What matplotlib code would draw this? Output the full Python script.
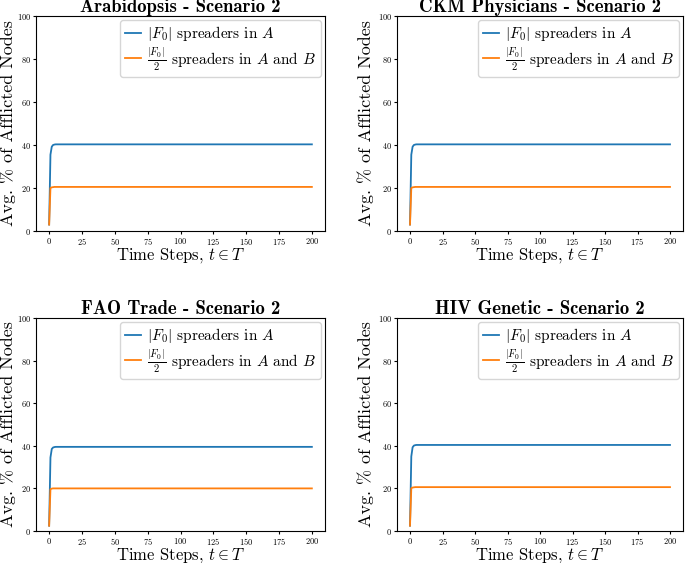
import matplotlib
matplotlib.use("Agg")
import matplotlib.pyplot as plt
import numpy as np

plt.rcParams['font.family'] = 'serif'
plt.rcParams['font.serif'] = ['cmr10']
plt.rcParams['mathtext.fontset'] = 'cm'
plt.rcParams['axes.unicode_minus'] = False
plt.rcParams['axes.formatter.use_mathtext'] = True

steps = np.arange(0, 201)

titles = ["Arabidopsis - Scenario 2", "CKM Physicians - Scenario 2",
          "FAO Trade - Scenario 2", "HIV Genetic - Scenario 2"]

# % afflicted, |F0| spreaders in A
arab_a = [3.0, 35.5, 39.2, 40.0, 40.2] + [40.3] * 196
ckm_a = [3.0, 35.5, 39.2, 40.0, 40.2] + [40.3] * 196
fao_a = [2.5, 34.5, 38.5, 39.2, 39.4] + [39.5] * 196
hiv_a = [2.5, 35.0, 39.3, 40.1, 40.3] + [40.4] * 196

# % afflicted, |F0|/2 spreaders in A and B
arab_ab = [3.0, 20.0, 20.3, 20.4, 20.5] + [20.5] * 196
ckm_ab = [3.0, 20.0, 20.3, 20.4, 20.5] + [20.5] * 196
fao_ab = [2.5, 19.6, 19.9, 20.0, 20.0] + [20.0] * 196
hiv_ab = [2.5, 20.1, 20.4, 20.5, 20.6] + [20.6] * 196

series = [(arab_a, arab_ab), (ckm_a, ckm_ab), (fao_a, fao_ab), (hiv_a, hiv_ab)]

fig = plt.figure(figsize=(6.85, 5.63), dpi=100)
W, H = 685, 563
# axes boxes in pixels (left, top, right, bottom) and ylabel right edge
boxes = [(36, 16, 325, 231, 16), (397, 16, 683, 231, 374),
         (36, 318, 325, 531, 16), (397, 318, 683, 531, 374)]

for (x0, y0, x1, y1, ylx), title, (a, ab) in zip(boxes, titles, series):
    w, h = x1 - x0, y1 - y0
    ax = fig.add_axes([x0 / W, 1 - y1 / H, w / W, h / H])
    ax.plot(steps, a, color='tab:blue', lw=1.3, label=r'$|F_0|$ spreaders in $A$')
    ax.plot(steps, ab, color='tab:orange', lw=1.3,
            label=r'$\frac{|F_0|}{2}$ spreaders in $A$ and $B$')
    ax.set_ylim(0, 100)
    ax.set_xticks([0, 25, 50, 75, 100, 125, 150, 175, 200])
    ax.set_yticks([0, 20, 40, 60, 80, 100])
    ax.tick_params(labelsize=6, length=2.5, pad=1)
    ax.set_xlabel(r'Time Steps, $t \in T$', fontsize=12)
    ax.xaxis.set_label_coords(0.5, -15.5 / h)
    ax.set_ylabel(r'Avg. % of Afflicted Nodes', fontsize=13)
    ax.yaxis.set_label_coords((ylx - x0) / w, 0.5)
    ax.set_title(title, fontsize=13.5, family='cmb10', pad=2.5)
    ax.legend(loc='upper right', fontsize=11, handlelength=1.1,
              borderpad=0.3, labelspacing=0.15, borderaxespad=0.25, handletextpad=0.4)

fig.savefig("out.png", dpi=100)
